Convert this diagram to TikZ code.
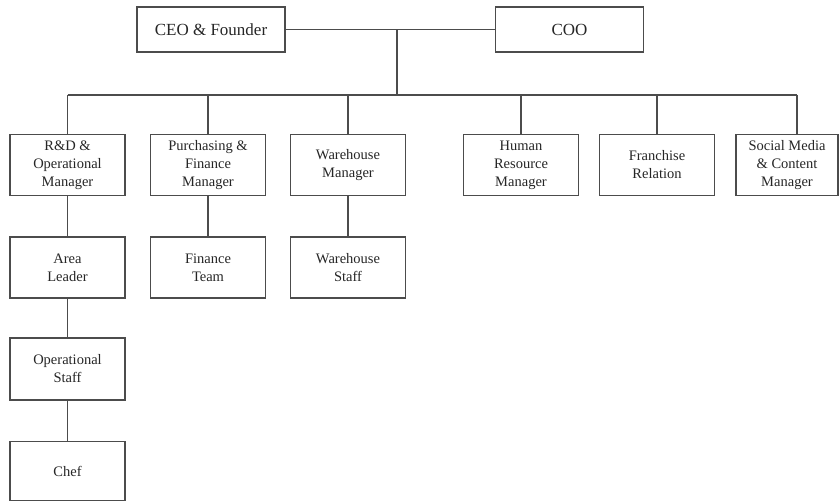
\documentclass[tikz,border=0pt]{standalone}
\usepackage{fontspec}
\setmainfont{Liberation Serif}
\begin{document}
\begin{tikzpicture}[x=1pt,y=-1pt,
  box/.style={draw=black!70,line width=1.6pt,fill=white,text=black!85,align=center,inner sep=0pt,
    minimum width=115pt,minimum height=61pt,font=\fontsize{14.5}{18}\selectfont},
  topbox/.style={box,minimum width=148pt,minimum height=45pt,font=\fontsize{17}{20}\selectfont},
  link/.style={draw=black!70,line width=1.8pt}]
\useasboundingbox (0,0) rectangle (840,502);
% top
\node[topbox] (ceo) at (211,29.5) {CEO \& Founder};
\node[topbox] (coo) at (569.5,29.5) {COO};
% row 1
\node[box] (rd) at (67.5,165) {R\&D \&\\Operational\\Manager};
\node[box] (pur) at (208,165) {Purchasing \&\\Finance\\Manager};
\node[box] (wm) at (348,165) {Warehouse\\Manager};
\node[box] (hr) at (521,165) {Human\\Resource\\Manager};
\node[box] (fr) at (657,165) {Franchise\\Relation};
\node[box,minimum width=102pt] (soc) at (787,165) {Social Media\\\& Content\\Manager};
% row 2
\node[box] (al) at (67.5,267.5) {Area\\Leader};
\node[box] (ft) at (208,267.5) {Finance\\Team};
\node[box] (ws) at (348,267.5) {Warehouse\\Staff};
% rows 3,4
\node[box,minimum height=62pt] (os) at (67.5,369) {Operational\\Staff};
\node[box,minimum height=59pt] (chef) at (67.5,471) {Chef};
% connectors
\coordinate (mid) at (397,30);
\coordinate (busc) at (397,95);
\coordinate (busl) at (67.5,95);
\coordinate (busr) at (797,95);
\draw[link] (ceo.east) -- (coo.west);
\draw[link] (mid) -- (busc);
\draw[link] (busl) -- (busr);
\draw[link] (busl) -- (rd.north);
\draw[link] (pur.north |- busl) -- (pur.north);
\draw[link] (wm.north |- busl) -- (wm.north);
\draw[link] (hr.north |- busl) -- (hr.north);
\draw[link] (fr.north |- busl) -- (fr.north);
\draw[link] (busr) -- (busr |- soc.north);
\draw[link] (rd.south) -- (al.north);
\draw[link] (pur.south) -- (ft.north);
\draw[link] (wm.south) -- (ws.north);
\draw[link] (al.south) -- (os.north);
\draw[link] (os.south) -- (chef.north);
\end{tikzpicture}
\end{document}
